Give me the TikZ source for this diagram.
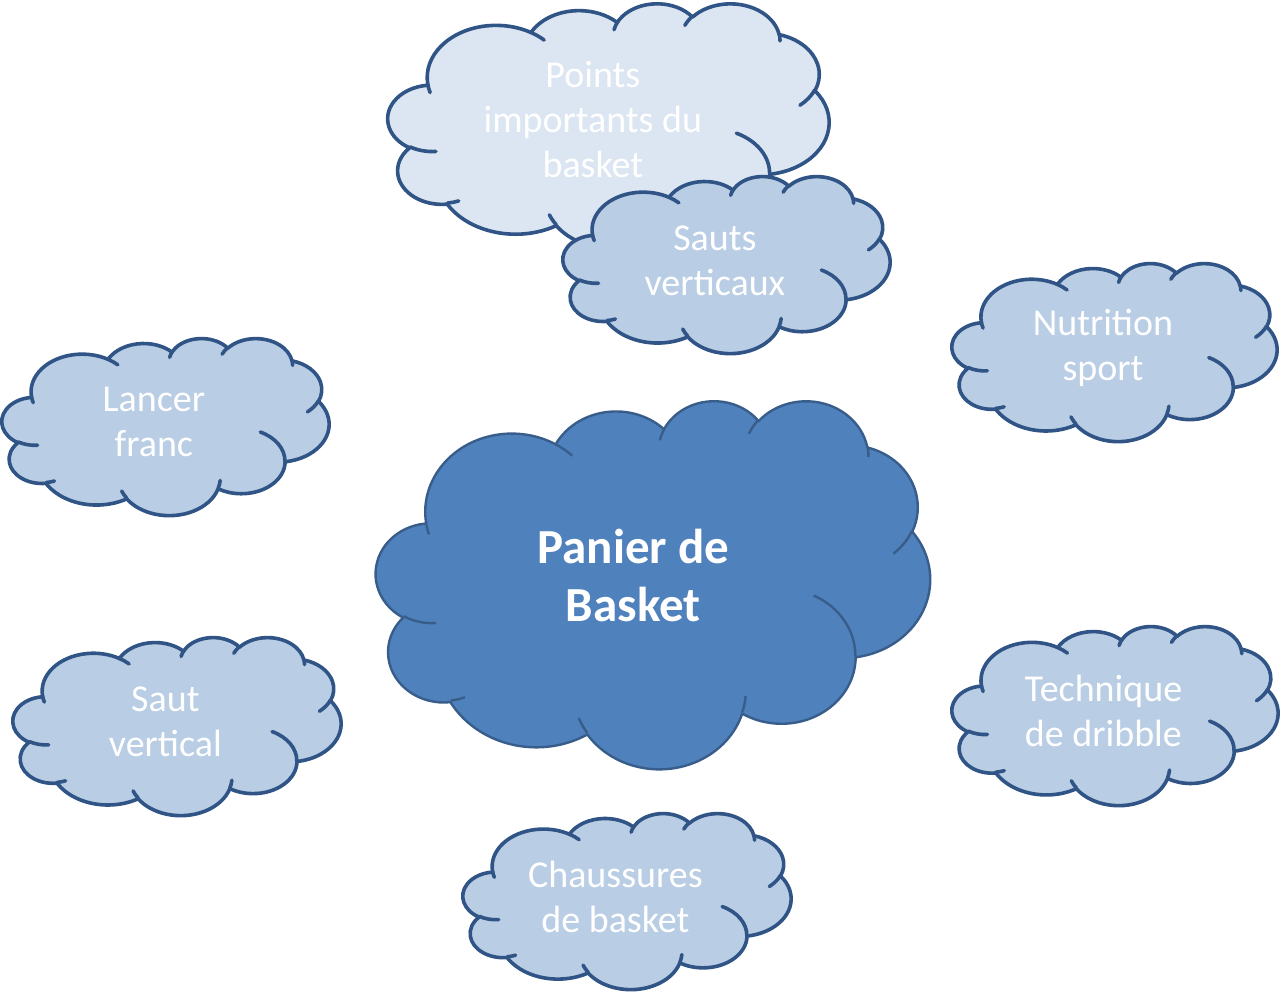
\documentclass[tikz,border=0pt]{standalone}
\usepackage{fontspec}
\setmainfont{Carlito}
\definecolor{cdark}{HTML}{4F81BD}
\definecolor{cmid}{HTML}{B9CDE5}
\definecolor{clight}{HTML}{DCE6F2}
\definecolor{cline}{HTML}{385D8A}
\definecolor{clinesm}{HTML}{2F5485}
\newcommand\ooprep[5]{%
  \pgfmathsetmacro\ootmpa{atan2((#2)*sin(#4),(#3)*cos(#4))}%
  \pgfmathsetmacro\ootmpb{atan2((#2)*sin((#4)+(#5)),(#3)*cos((#4)+(#5)))}%
  \pgfmathsetmacro\ootmpd{\ootmpb-\ootmpa}%
  \pgfmathsetmacro\ootmpd{\ootmpd<0 ? \ootmpd+360 : \ootmpd}%
  \expandafter\xdef\csname oo#1\endcsname{arc[start angle=\ootmpa, delta angle=\ootmpd, x radius=#2, y radius=#3]}%
}
\newcommand\drawcloud[5]{%
  \begin{scope}[shift={(#1,#2)}, xscale=#3/43.2, yscale=#4/43.2]
    \path[#5] (3.9,14.37) \ooA \ooB \ooC \ooD \ooE \ooF \ooG \ooH \ooI \ooJ \ooK -- cycle;
    \draw[#5, fill=none] (4.693,26.177) \ooiA (6.928,34.899) \ooiB (16.478,39.09) \ooiC
      (28.827,34.751) \ooiD (34.129,22.954) \ooiE (41.798,15.354) \ooiF
      (38.324,5.426) \ooiG (29.078,3.952) \ooiH (22.141,4.72) \ooiI
      (14.0,5.192) \ooiJ (4.127,15.789) \ooiK;
  \end{scope}
}
\tikzset{
  bigcloud/.style={draw=cline, fill=cdark, line width=2.4pt, line join=round},
  smallcloud/.style={draw=clinesm, fill=cmid, line width=3.6pt, line cap=round, line join=round},
  lightcloud/.style={draw=clinesm, fill=clight, line width=3.6pt, line cap=round, line join=round},
  txt/.style={text=white, align=center, inner sep=0pt, font=\fontsize{38}{45}\selectfont},
  bigtxt/.style={text=white, align=center, inner sep=0pt, font=\fontsize{49}{58}\selectfont\bfseries}
}
\begin{document}
\begin{tikzpicture}[x=1pt, y=-1pt]
\ooprep{A}{6.753}{9.19}{-190.4875}{123.7805}
\ooprep{B}{5.333}{7.267}{-144.1024}{89.9452}
\ooprep{C}{4.365}{5.945}{-145.8079}{99.7230}
\ooprep{D}{4.857}{6.595}{-130.9861}{117.2417}
\ooprep{E}{5.333}{7.273}{-78.7089}{109.0269}
\ooprep{F}{6.775}{9.22}{-46.2673}{130.2690}
\ooprep{G}{5.785}{7.867}{0.6250}{114.0333}
\ooprep{H}{6.752}{9.215}{22.4516}{115.1726}
\ooprep{I}{7.72}{10.543}{66.2426}{75.7110}
\ooprep{J}{4.36}{5.918}{-274.9421}{146.7356}
\ooprep{K}{4.345}{5.945}{-246.8285}{152.5189}
\ooprep{iA}{4.345}{5.945}{86.7420}{26.4295}
\ooprep{iB}{4.36}{5.918}{73.6105}{11.4475}
\ooprep{iC}{6.752}{9.215}{137.6242}{14.0811}
\ooprep{iD}{6.752}{9.215}{6.4533}{15.9984}
\ooprep{iE}{5.785}{7.867}{-70.2924}{70.9174}
\ooprep{iF}{5.333}{7.273}{30.3180}{27.7515}
\ooprep{iG}{4.857}{6.595}{-13.7443}{14.8589}
\ooprep{iH}{4.857}{6.595}{-149.1815}{18.1954}
\ooprep{iI}{4.365}{5.945}{-163.4943}{17.6864}
\ooprep{iJ}{6.753}{9.19}{-66.7070}{12.3194}
\ooprep{iK}{6.753}{9.19}{157.6544}{11.8582}
\fill[white] (0,0) rectangle (1281,993);
\useasboundingbox (0,0) rectangle (1281,993);
% clouds
\drawcloud{388}{3}{441}{245}{lightcloud}
\node[txt] (points) at (388+0.4645*441, 3+0.477*245) {Points\\importants du\\basket};
\drawcloud{563}{176}{327}{177}{smallcloud}
\node[txt] (sauts) at (563+0.4645*327, 176+0.477*177) {Sauts\\verticaux};
\drawcloud{952}{263}{325}{178}{smallcloud}
\node[txt] (nutrition) at (952+0.4645*325, 263+0.477*178) {Nutrition\\sport};
\drawcloud{2}{338}{327}{177}{smallcloud}
\node[txt] (lancer) at (2+0.4645*327, 338+0.477*177) {Lancer\\franc};
\drawcloud{13}{637}{328}{178}{smallcloud}
\node[txt] (saut) at (13+0.4645*328, 637+0.477*178) {Saut\\vertical};
\drawcloud{952}{626}{326}{179}{smallcloud}
\node[txt] (dribble) at (952+0.4645*326, 626+0.477*179) {Technique\\de dribble};
\drawcloud{463}{813}{328}{176}{smallcloud}
\node[txt] (chaussures) at (463+0.4645*328, 813+0.477*176) {Chaussures\\de basket};
\drawcloud{376}{400}{554}{368}{bigcloud}
\node[bigtxt] (panier) at (376+0.4645*554, 400+0.477*368) {Panier de\\Basket};
\end{tikzpicture}
\end{document}
